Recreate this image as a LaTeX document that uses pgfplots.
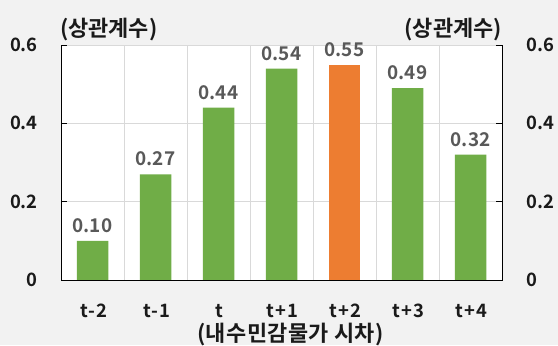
\documentclass[border=0pt]{standalone}
\usepackage{pgfplots}
\pgfplotsset{compat=1.18}
\usepackage{fontspec}
\setmainfont{Noto Sans CJK KR}[BoldFont={Noto Sans CJK KR Bold}]
\definecolor{bggray}{HTML}{F2F2F2}
\definecolor{bargreen}{HTML}{70AD47}
\definecolor{barorange}{HTML}{ED7D31}
\definecolor{gridgray}{HTML}{D9D9D9}
\definecolor{lbl}{HTML}{595959}
\definecolor{txt}{HTML}{1A1A1A}
\newcommand{\tickfont}{\bfseries\fontsize{18.5}{18.5}\selectfont\addfontfeatures{LetterSpace=6}}
\newcommand{\ytickfont}{\bfseries\fontsize{18.5}{18.5}\selectfont}
\begin{document}
\begin{tikzpicture}[x=1bp,y=1bp]
\useasboundingbox (0,0) rectangle (558,345);
\fill[bggray] (0,0) rectangle (558,345);
\begin{axis}[
  at={(61bp,65bp)}, anchor=south west,
  width=441bp, height=235bp, scale only axis,
  xmin=-0.5, xmax=6.5, ymin=0, ymax=0.6,
  clip=false,
  axis background/.style={fill=white},
  axis line style={draw=none},
  xtick={0,...,6}, xticklabels={t-2,t-1,t,t+1,t+2,t+3,t+4},
  minor xtick={0.5,1.5,...,5.5},
  ytick={0,0.2,0.4,0.6}, yticklabels={0,0.2,0.4,0.6},
  ymajorgrids, xminorgrids,
  major grid style={gridgray, line width=0.75pt},
  minor grid style={gridgray, line width=0.75pt},
  major x tick style={draw=none}, minor x tick style={draw=none},
  major y tick style={black, line width=0.75pt},
  tick align=inside, major tick length=6bp,
  yticklabel style={anchor=east, inner sep=0pt, xshift=-23bp, font=\ytickfont, text=txt},
  xticklabel style={anchor=base, inner sep=0pt, xshift=1bp, yshift=-37bp, font=\tickfont, text=txt},
  xlabel={(내수민감물가 시차)},
  xlabel style={at={(axis description cs:0.5,0)}, anchor=center, xshift=9bp, yshift=-55bp, font=\bfseries\fontsize{22}{22}\selectfont\addfontfeatures{LetterSpace=2}, text=txt},
  nodes near coords,
  nodes near coords style={font=\bfseries\fontsize{19}{19}\selectfont, text=lbl, anchor=south, inner sep=0pt, yshift=8bp,
    /pgf/number format/.cd, fixed, fixed zerofill, precision=2, assume math mode=true},
]
\addplot[ybar, bar shift=0pt, bar width=0.5, fill=bargreen, draw=none]
  coordinates {(0,0.10) (1,0.27) (2,0.44) (3,0.54) (5,0.49) (6,0.32)};
\addplot[ybar, bar shift=0pt, bar width=0.5, fill=barorange, draw=none]
  coordinates {(4,0.55)};
\draw[black, line width=0.9pt] (axis cs:-0.5,0.6) -- (axis cs:-0.5,0) -- (axis cs:6.5,0) -- (axis cs:6.5,0.6);
\node[anchor=west, inner sep=0pt, font=\bfseries\fontsize{22}{22}\selectfont, text=txt] at ([xshift=-1bp, yshift=15bp]rel axis cs:0,1) {(상관계수)};
\node[anchor=east, inner sep=0pt, font=\bfseries\fontsize{22}{22}\selectfont, text=txt] at ([yshift=15bp]rel axis cs:1,1) {(상관계수)};
\end{axis}
\begin{axis}[
  at={(61bp,65bp)}, anchor=south west,
  width=441bp, height=235bp, scale only axis,
  xmin=-0.5, xmax=6.5, ymin=0, ymax=0.6,
  axis x line=none, axis y line*=right,
  axis line style={black, line width=0.9pt},
  ytick={0,0.2,0.4,0.6}, yticklabels={0,0.2,0.4,0.6},
  major y tick style={black, line width=0.75pt},
  tick align=inside, major tick length=6bp,
  yticklabel style={anchor=west, inner sep=0pt, xshift=24bp, font=\ytickfont, text=txt},
]
\addplot[draw=none] coordinates {(0,0)};
\end{axis}
\end{tikzpicture}
\end{document}
